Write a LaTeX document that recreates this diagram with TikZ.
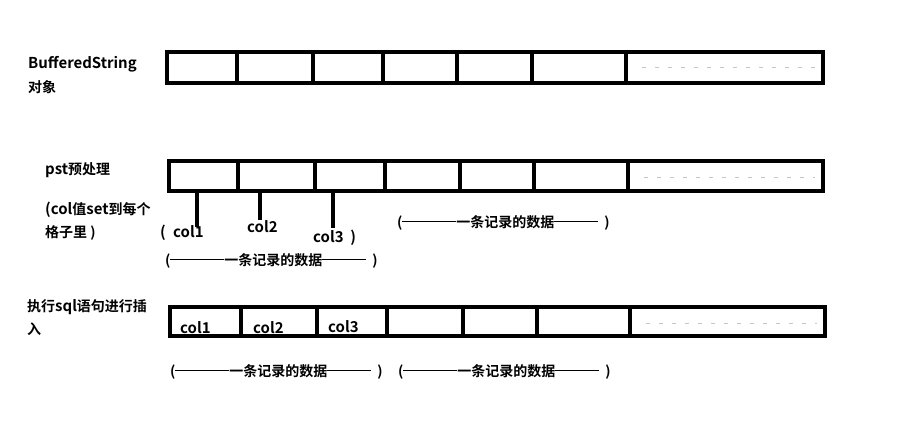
\documentclass[tikz,border=0pt]{standalone}
\usepackage{fontspec}
\setmainfont{Noto Sans CJK SC}[UprightFont=*, BoldFont=* Bold]
\newfontfamily\latf{Noto Sans CJK SC}[UprightFont=*, BoldFont=* Bold, Scale=1.07]
\newcommand\dsh[1]{\rule[4.6pt]{#1}{1.6pt}}
\newcommand\rec[2]{(\dsh{#1}一条记录的数据\dsh{#2}\hspace{6pt})}
\begin{document}
\begin{tikzpicture}[x=1pt,y=-1pt,
  cell/.style={draw=black, line width=4.8pt, rectangle, inner sep=0pt, outer sep=0pt, anchor=north west},
  stem/.style={line width=4.2pt, black},
  lbl/.style={anchor=base west, inner sep=0pt, font=\fontsize{14}{16}\selectfont\bfseries},
  filler/.style={gray!45, line width=1pt, dash pattern=on 4pt off 9pt}
]
\useasboundingbox (0,0) rectangle (913,433);
% row 1
\foreach \a/\b [count=\i] in {167/237,237/313,313/383,383/457,457/532,532/626,626/823}
  \node[cell, minimum width={\b-\a}, minimum height=31] (ra\i) at (\a,52) {};
% row 2
\foreach \a/\b [count=\i] in {169/238,238/315,315/385,385/460,460/534,534/628,628/823}
  \node[cell, minimum width={\b-\a}, minimum height=30] (rb\i) at (\a,161) {};
% row 3
\foreach \a/\b [count=\i] in {170/241,241/317,317/387,387/463,463/537,537/630,630/825}
  \node[cell, minimum width={\b-\a}, minimum height=29] (rc\i) at (\a,307) {};
% fillers
\draw[filler] (642,68) -- (815,68);
\draw[filler] (644,177) -- (815,177);
\draw[filler] (646,323) -- (817,323);
% left labels
\node[lbl] (t1) at (28,69) {\latf BufferedString};
\node[lbl] (t2) at (28,93) {对象};
\node[lbl] (t3) at (45,175) {{\latf pst}预处理};
\node[lbl] (t4) at (45,214) {{\latf (col}值{\latf set}到每个};
\node[lbl] (t5) at (45,237) {格子里 )};
\node[lbl] (t6) at (27,311) {执行{\latf sql}语句进行插};
\node[lbl] (t7) at (27,334) {入};
% stems
\coordinate (s1) at (197,227);
\coordinate (s2) at (260,220);
\coordinate (s3) at (333,228);
\draw[stem] (rb1.south -| s1) -- (s1);
\draw[stem] (rb2.south -| s2) -- (s2);
\draw[stem] (rb3.south -| s3) -- (s3);
% row 2 labels
\node[lbl] (p1) at (160,237) {\latf (};
\node[lbl] (c1) at (173,237) {\latf col1};
\node[lbl] (c2) at (247,232) {\latf col2};
\node[lbl] (c3) at (313,242) {\latf col3 \ )};
\node[lbl] (g1) at (165,265) {\rec{54pt}{44pt}};
\node[lbl] (g2) at (397,227) {\rec{54pt}{44pt}};
% row 3 labels
\node[lbl] (d1) at (180,333) {\latf col1};
\node[lbl] (d2) at (253,333) {\latf col2};
\node[lbl] (d3) at (328,332) {\latf col3};
\node[lbl] (g3) at (170,376) {\rec{54pt}{44pt}};
\node[lbl] (g4) at (398,376) {\rec{54pt}{44pt}};
\end{tikzpicture}
\end{document}
